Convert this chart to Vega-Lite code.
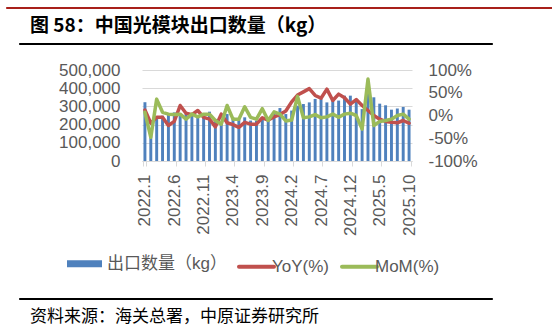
{
  "$schema": "https://vega.github.io/schema/vega-lite/v6.json",
  "padding": {"left": 5, "top": 6, "right": 0, "bottom": 0},
  "background": "white",
  "config": {
    "view": {"stroke": null},
    "axis": {"labelFont": "Liberation Sans", "labelFontSize": 17, "labelColor": "#595959", "title": null},
    "legend": {"labelFont": "Liberation Sans, Noto Sans CJK SC"}
  },
  "datasets": {
    "d": [
      {"m": "2022.1", "qty": 323000, "yoy": 0.12, "mom": 0.07},
      {"m": "2022.2", "qty": 180000, "yoy": -0.17, "mom": -0.48},
      {"m": "2022.3", "qty": 242000, "yoy": -0.04, "mom": 0.36},
      {"m": "2022.4", "qty": 249000, "yoy": -0.04, "mom": 0.07},
      {"m": "2022.5", "qty": 258000, "yoy": -0.22, "mom": 0.03},
      {"m": "2022.6", "qty": 267000, "yoy": -0.13, "mom": 0.02},
      {"m": "2022.7", "qty": 262000, "yoy": 0.22, "mom": 0.03},
      {"m": "2022.8", "qty": 258000, "yoy": 0.05, "mom": -0.08},
      {"m": "2022.9", "qty": 249000, "yoy": 0.02, "mom": 0.03},
      {"m": "2022.10", "qty": 249000, "yoy": 0.11, "mom": -0.03},
      {"m": "2022.11", "qty": 258000, "yoy": -0.04, "mom": 0.03},
      {"m": "2022.12", "qty": 271000, "yoy": -0.08, "mom": 0.03},
      {"m": "2023.1", "qty": 231000, "yoy": -0.25, "mom": -0.11},
      {"m": "2023.2", "qty": 212000, "yoy": 0.03, "mom": -0.19},
      {"m": "2023.3", "qty": 258000, "yoy": -0.16, "mom": 0.22},
      {"m": "2023.4", "qty": 240000, "yoy": -0.2, "mom": -0.08},
      {"m": "2023.5", "qty": 228000, "yoy": -0.26, "mom": -0.08},
      {"m": "2023.6", "qty": 240000, "yoy": -0.15, "mom": 0.19},
      {"m": "2023.7", "qty": 222000, "yoy": -0.19, "mom": -0.04},
      {"m": "2023.8", "qty": 222000, "yoy": -0.19, "mom": -0.08},
      {"m": "2023.9", "qty": 231000, "yoy": -0.05, "mom": 0.15},
      {"m": "2023.10", "qty": 222000, "yoy": -0.1, "mom": -0.11},
      {"m": "2023.11", "qty": 267000, "yoy": -0.03, "mom": 0.08},
      {"m": "2023.12", "qty": 291000, "yoy": 0.02, "mom": 0.03},
      {"m": "2024.1", "qty": 258000, "yoy": 0.1, "mom": -0.12},
      {"m": "2024.2", "qty": 277000, "yoy": 0.3, "mom": -0.1},
      {"m": "2024.3", "qty": 304000, "yoy": 0.45, "mom": 0.42},
      {"m": "2024.4", "qty": 313000, "yoy": 0.52, "mom": -0.05},
      {"m": "2024.5", "qty": 322000, "yoy": 0.59, "mom": -0.03},
      {"m": "2024.6", "qty": 341000, "yoy": 0.44, "mom": 0.02},
      {"m": "2024.7", "qty": 340000, "yoy": 0.38, "mom": -0.05},
      {"m": "2024.8", "qty": 322000, "yoy": 0.58, "mom": -0.03},
      {"m": "2024.9", "qty": 341000, "yoy": 0.33, "mom": 0.03},
      {"m": "2024.10", "qty": 332000, "yoy": 0.47, "mom": -0.04},
      {"m": "2024.11", "qty": 359000, "yoy": 0.39, "mom": 0.03},
      {"m": "2024.12", "qty": 359000, "yoy": 0.25, "mom": 0.05},
      {"m": "2025.1", "qty": 335000, "yoy": 0.35, "mom": 0.0},
      {"m": "2025.2", "qty": 285000, "yoy": 0.22, "mom": -0.3},
      {"m": "2025.3", "qty": 390000, "yoy": 0.11, "mom": 0.8},
      {"m": "2025.4", "qty": 350000, "yoy": 0.0, "mom": -0.22},
      {"m": "2025.5", "qty": 315000, "yoy": -0.08, "mom": -0.13},
      {"m": "2025.6", "qty": 306000, "yoy": -0.13, "mom": -0.11},
      {"m": "2025.7", "qty": 282000, "yoy": -0.15, "mom": -0.08},
      {"m": "2025.8", "qty": 288000, "yoy": -0.16, "mom": 0.0},
      {"m": "2025.9", "qty": 297000, "yoy": -0.11, "mom": 0.03},
      {"m": "2025.10", "qty": 282000, "yoy": -0.17, "mom": -0.08}
    ]
  },
  "resolve": {"scale": {"color": "independent"}, "legend": {"color": "independent"}},
  "spacing": 19,
  "vconcat": [
    {
      "resolve": {"scale": {"color": "independent"}, "legend": {"color": "independent"}},
      "spacing": 16,
      "vconcat": [
        {
          "spacing": 7,
          "vconcat": [
            {
              "width": 547, "height": 1,
              "data": {"values": []},
              "mark": "text",
              "encoding": {},
              "view": {"stroke": "#A8201A", "fill": "#A8201A", "strokeWidth": 1}
            },
            {
              "spacing": 0,
              "hconcat": [
                {"width": 12, "height": 1, "data": {"values": []}, "mark": "text", "encoding": {}},
                {
                  "width": 473, "height": 1,
                  "data": {"values": []},
                  "mark": "text",
                  "encoding": {},
                  "view": {"stroke": "#000000", "fill": "#000000", "strokeWidth": 1},
                  "title": {"text": "图 58：中国光模块出口数量（kg）", "anchor": "start", "dx": 11, "offset": 7, "fontSize": 19, "fontWeight": "bold", "font": "Noto Sans CJK SC", "color": "#000000"}
                }
              ]
            }
          ]
        },
        {
          "spacing": 0,
          "resolve": {"scale": {"color": "independent"}, "legend": {"color": "independent"}},
          "hconcat": [
            {"width": 52, "height": 1, "data": {"values": []}, "mark": "text", "encoding": {}},
            {
              "width": 270, "height": 91,
              "data": {"name": "d"},
              "resolve": {"scale": {"y": "independent"}},
              "layer": [
                {
                  "mark": {"type": "bar"},
                  "encoding": {
                    "x": {
                      "field": "m", "type": "ordinal", "sort": null,
                      "scale": {"paddingInner": 0.5, "paddingOuter": 0.25},
                      "axis": {
                        "values": ["2022.1", "2022.6", "2022.11", "2023.4", "2023.9", "2024.2", "2024.7", "2024.12", "2025.5", "2025.10"],
                        "labelAngle": -90, "tickBand": "extent", "tickColor": "#D9D9D9", "tickSize": 5,
                        "domainColor": "#D9D9D9", "labelPadding": 8, "grid": false
                      }
                    },
                    "y": {
                      "field": "qty", "type": "quantitative",
                      "scale": {"domain": [0, 500000]},
                      "axis": {
                        "orient": "left", "values": [0, 100000, 200000, 300000, 400000, 500000], "format": ",d",
                        "domain": false, "ticks": false, "labelPadding": 22,
                        "grid": true, "gridColor": "#D9D9D9", "gridWidth": 1
                      }
                    },
                    "color": {
                      "datum": "出口数量（kg）",
                      "scale": {"domain": ["出口数量（kg）", "YoY(%)", "MoM(%)"], "range": ["#4F81BD", "#C0504D", "#9BBB59"]},
                      "legend": {
                        "title": null, "orient": "none", "legendX": -66, "legendY": 185,
                        "direction": "horizontal", "columns": 3,
                        "symbolSize": 1225, "symbolType": "stroke",
                        "labelFontSize": 17, "labelColor": "#595959", "labelOffset": 7,
                        "columnPadding": 4, "padding": 0, "labelLimit": 400,
                        "encode": {
                          "symbols": {
                            "update": {
                              "shape": {"value": "stroke"},
                              "fill": {"value": "transparent"},
                              "stroke": {"signal": "datum.value === '出口数量（kg）' ? '#4F81BD' : (datum.value === 'YoY(%)' ? '#C0504D' : '#9BBB59')"},
                              "strokeWidth": {"signal": "datum.value === '出口数量（kg）' ? 7 : 4"},
                              "strokeCap": {"signal": "datum.value === '出口数量（kg）' ? 'butt' : 'round'"},
                              "opacity": {"value": 1}
                            }
                          },
                          "labels": {
                            "update": {
                              "dx": {"signal": "datum.value === '出口数量（kg）' ? 7 : 0"}
                            }
                          }
                        }
                      }
                    }
                  }
                },
                {
                  "encoding": {
                    "x": {"field": "m", "type": "ordinal", "sort": null}
                  },
                  "layer": [
                    {
                      "mark": {"type": "line", "strokeWidth": 3.5, "strokeCap": "round", "strokeJoin": "round"},
                      "encoding": {
                        "y": {
                          "field": "yoy", "type": "quantitative",
                          "scale": {"domain": [-1, 1]},
                          "axis": {
                            "orient": "right", "values": [-1, -0.5, 0, 0.5, 1],
                            "labelExpr": "(datum.value < 0 ? '-' : '') + abs(round(datum.value * 100)) + '%'",
                            "domain": false, "ticks": false, "grid": false, "labelPadding": 16
                          }
                        },
                        "color": {"datum": "YoY(%)"}
                      }
                    },
                    {
                      "mark": {"type": "line", "strokeWidth": 3.5, "strokeCap": "round", "strokeJoin": "round"},
                      "encoding": {
                        "y": {
                          "field": "mom", "type": "quantitative",
                          "scale": {"domain": [-1, 1]},
                          "axis": {
                            "orient": "right", "values": [-1, -0.5, 0, 0.5, 1],
                            "labelExpr": "(datum.value < 0 ? '-' : '') + abs(round(datum.value * 100)) + '%'",
                            "domain": false, "ticks": false, "grid": false, "labelPadding": 16
                          }
                        },
                        "color": {"datum": "MoM(%)"}
                      }
                    }
                  ]
                }
              ]
            }
          ]
        }
      ]
    },
    {
      "spacing": 0,
      "hconcat": [
        {"width": 12, "height": 1, "data": {"values": []}, "mark": "text", "encoding": {}},
        {
          "width": 473, "height": 1,
          "data": {"values": []},
          "mark": "text",
          "encoding": {},
          "view": {"stroke": "#000000", "fill": "#000000", "strokeWidth": 1},
          "title": {"text": "资料来源：海关总署，中原证券研究所", "orient": "bottom", "anchor": "start", "dx": 11, "offset": 10, "fontSize": 17, "fontWeight": "normal", "font": "Noto Sans CJK SC", "color": "#000000"}
        }
      ]
    }
  ]
}
